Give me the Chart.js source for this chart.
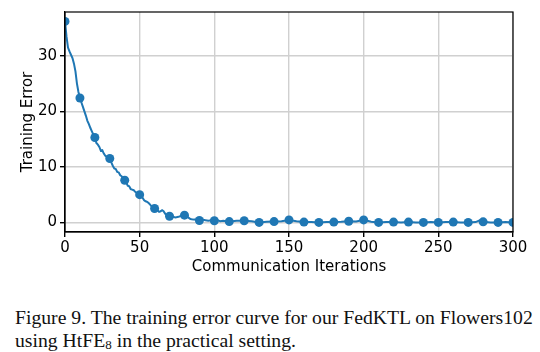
<!DOCTYPE html>
<html>
<head>
<meta charset="utf-8">
<script src="https://cdn.jsdelivr.net/npm/chart.js@4"></script>
<style>
  body { margin: 0; background: #fff; width: 540px; height: 352px; overflow: hidden; }
  #wrap { position: absolute; left: 0; top: 0; width: 540px; height: 280px; }
  #caption {
    position: absolute; left: 15px; top: 306px; width: 530px;
    font-family: "Liberation Serif", "Times New Roman", serif;
    font-size: 19.7px; line-height: 23px; color: #111; white-space: nowrap;
  }
  #caption sub { font-size: 13px; vertical-align: -2px; line-height: 0; }
</style>
</head>
<body>
<div id="wrap"><canvas id="chart-training-error" width="540" height="280"></canvas></div>
<div id="caption">Figure 9. The training error curve for our FedKTL on Flowers102<br>using HtFE<sub>8</sub> in the practical setting.</div>
<script>
// curve
const lineIters = [0, 1, 2, 3, 4, 5, 6, 7, 8, 9, 10, 11, 12, 13, 14, 15, 16, 17, 18, 19,
  20, 21, 22, 23, 24, 25, 26, 27, 28, 29, 30, 31, 32, 33, 34, 35, 36, 37, 38, 39,
  40, 41, 42, 43, 44, 45, 46, 47, 48, 49, 50, 51, 52, 53, 54, 55, 56, 57, 58, 59,
  60, 61, 62, 63, 64, 65, 66, 67, 68, 69, 70, 72, 74, 76, 78, 80, 82, 84, 86, 88,
  90, 92, 94, 96, 98, 100, 102, 104, 106, 108, 110, 115, 120, 125, 130, 135, 140, 145,
  150, 155, 160, 165, 170, 175, 180, 185, 190, 195, 200, 205, 210, 215, 220, 225, 230,
  235, 240, 245, 250, 255, 260, 265, 270, 275, 278, 280, 285, 290, 295, 300];
const lineErrors = [36.2, 33.5, 31.5, 30.8, 30.2, 29.6, 28.6, 27.2, 25.0, 23.5, 22.4, 21.6, 20.8, 20.0, 19.2, 18.3, 17.7, 17.0, 16.4, 15.8,
  15.4, 14.3, 14.0, 13.6, 12.9, 13.0, 12.4, 12.0, 11.8, 11.6, 11.5, 10.8, 10.2, 9.7, 9.6, 9.1, 9.0, 8.5, 8.3, 7.8,
  7.6, 7.2, 6.6, 6.5, 6.0, 5.9, 5.8, 5.5, 5.3, 5.1, 5.0, 4.7, 4.4, 4.0, 3.8, 3.7, 3.5, 3.2, 2.9, 2.6,
  2.5, 2.4, 2.2, 1.9, 2.0, 2.2, 2.0, 1.6, 1.3, 1.2, 1.1, 1.0, 0.9, 1.0, 1.2, 1.3, 1.0, 0.6, 0.5, 0.5,
  0.4, 0.5, 0.4, 0.3, 0.4, 0.3, 0.4, 0.2, 0.3, 0.2, 0.15, 0.3, 0.3, 0.2, 0.0, 0.1, 0.15, 0.2,
  0.45, 0.2, 0.05, 0.05, 0.0, 0.05, 0.05, 0.1, 0.2, 0.15, 0.45, 0.1, 0.0, 0.05, 0.05, 0.0, 0.05,
  0.0, 0.0, 0.05, 0.0, 0.05, 0.05, 0.0, 0.0, 0.05, 0.4, 0.1, 0.0, 0.0, 0.05, 0.0];

// markers every 10 iterations
const markerIters = [0, 10, 20, 30, 40, 50, 60, 70, 80, 90, 100, 110, 120, 130, 140, 150,
  160, 170, 180, 190, 200, 210, 220, 230, 240, 250, 260, 270, 280, 290, 300];
const markerErrors = [36.2, 22.4, 15.3, 11.5, 7.6, 5.0, 2.5, 1.1, 1.3, 0.35, 0.3, 0.15, 0.3, 0.0, 0.15, 0.45,
  0.05, 0.0, 0.05, 0.2, 0.45, 0.0, 0.05, 0.05, 0.0, 0.0, 0.05, 0.0, 0.1, 0.0, 0.0];

const xTicks = [0, 50, 100, 150, 200, 250, 300];
const yTicks = [0, 10, 20, 30];

const tickFont = { family: 'DejaVu Sans', size: 15 };

const framePlugin = {
    id: 'frame',
    afterDraw(chart) {
        const a = chart.chartArea;
        const c = chart.ctx;
        c.save();
        c.strokeStyle = '#000';
        c.lineWidth = 1.2;
        c.strokeRect(a.left, a.top, a.right - a.left, a.bottom - a.top);
        c.restore();
    }
};

function loadChartTrainingError() {
    const ctx = document.getElementById('chart-training-error').getContext('2d');
    const myChart = new Chart(ctx, {
        type: 'line',
        data: {
            datasets: [{
                    data: lineIters.map((x, i) => ({ x: x, y: lineErrors[i] })),
                    borderColor: '#1f77b4',
                    borderWidth: 2,
                    pointRadius: 0,
                    tension: 0,
                    fill: false
                }, {
                    type: 'scatter',
                    data: markerIters.map((x, i) => ({ x: x, y: markerErrors[i] })),
                    backgroundColor: '#1f77b4',
                    borderWidth: 0,
                    pointRadius: 4.5,
                    showLine: false
                }]
        },
        options: {
            responsive: false,
            animation: false,
            events: [],
            layout: { padding: { left: 15, top: 10, right: 27, bottom: 0 } },
            plugins: { legend: { display: false }, tooltip: { enabled: false } },
            scales: {
                x: {
                    type: 'linear',
                    min: 0,
                    max: 300,
                    afterBuildTicks: s => { s.ticks = xTicks.map(v => ({ value: v })); },
                    afterFit: s => { s.height = 48; },
                    ticks: { font: tickFont, color: '#000', padding: 2, maxRotation: 0 },
                    grid: { color: '#d0d0d0', lineWidth: 1.4, tickColor: '#000', tickLength: 5 },
                    border: { display: true, color: '#000', width: 1.2 },
                    title: { display: true, text: 'Communication Iterations', font: tickFont, color: '#000', padding: { top: 0, bottom: 4 } }
                },
                y: {
                    min: -1.73,
                    max: 37.9,
                    afterBuildTicks: s => { s.ticks = yTicks.map(v => ({ value: v })); },
                    afterFit: s => { s.width = 50; },
                    ticks: { font: tickFont, color: '#000', padding: 3 },
                    grid: { color: '#d0d0d0', lineWidth: 1.4, tickColor: '#000', tickLength: 5 },
                    border: { display: true, color: '#000', width: 1.2 },
                    title: { display: true, text: 'Training Error', font: tickFont, color: '#000', padding: { top: 4, bottom: 0 } }
                }
            }
        },
        plugins: [framePlugin]
    });
}

loadChartTrainingError();
</script>
</body>
</html>
